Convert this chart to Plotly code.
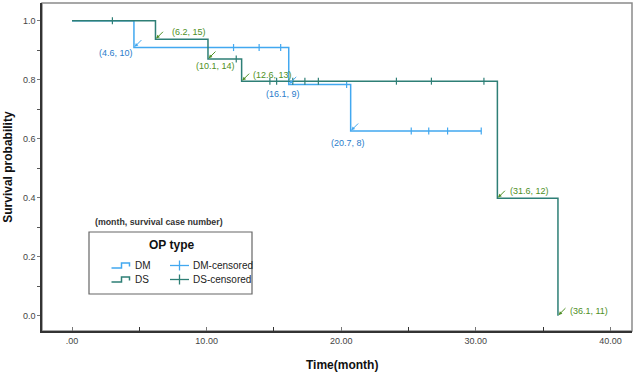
import plotly.graph_objects as go

# ---------------- data ----------------
dm_times = [0, 4.6, 16.1, 20.7]
dm_surv = [1.0, 0.909, 0.784, 0.626]
dm_end = 30.4
dm_cens_t = [12.0, 13.9, 15.5, 20.4, 25.2, 26.5, 27.9, 30.4]

ds_times = [0, 6.2, 10.1, 12.6, 31.6, 36.1]
ds_surv = [1.0, 0.937, 0.870, 0.795, 0.398, 0.0]
ds_end = 36.1
ds_cens_t = [3.0, 12.2, 14.7, 15.2, 16.4, 17.3, 18.3, 24.1, 26.7, 30.6]

# annotation labels: (time, survival case number, group)
lab_t = [4.6, 6.2, 10.1, 12.6, 16.1, 20.7, 31.6, 36.1]
lab_n = [10, 15, 14, 13, 9, 8, 12, 11]
lab_g = ["DM", "DS", "DS", "DS", "DM", "DM", "DS", "DS"]
# text offsets in pixels (dx right, dy down)
lab_dx = [-18, 34, 8, 31, -6, -3, 32, 31]
lab_dy = [5, -7, 7, -6, 10, 12, -7, -5]

x_tickvals = [0, 10, 20, 30, 40]
x_ticktext = [".00", "10.00", "20.00", "30.00", "40.00"]
y_tickvals = [0.0, 0.2, 0.4, 0.6, 0.8, 1.0]
y_ticktext = ["0.0", "0.2", "0.4", "0.6", "0.8", "1.0"]

DM_COL = "#42A8F0"
DS_COL = "#2E7F76"
DM_TXT = "#2A7CCB"
DS_TXT = "#4E8F25"
FONT = "Liberation Sans, Arial, sans-serif"


def surv_at(times, surv, t):
    s = surv[0]
    for ti, si in zip(times, surv):
        if ti <= t:
            s = si
    return s


fig = go.Figure()

# step curves
fig.add_trace(go.Scatter(x=dm_times + [dm_end], y=dm_surv + [dm_surv[-1]],
                         mode="lines", line=dict(color=DM_COL, width=1.5, shape="hv"),
                         showlegend=False, hoverinfo="skip"))
fig.add_trace(go.Scatter(x=dm_cens_t, y=[surv_at(dm_times, dm_surv, t) for t in dm_cens_t],
                         mode="markers",
                         marker=dict(symbol="line-ns", size=5, line=dict(color=DM_COL, width=1.2)),
                         showlegend=False, hoverinfo="skip"))
fig.add_trace(go.Scatter(x=ds_times + [ds_end], y=ds_surv + [ds_surv[-1]],
                         mode="lines", line=dict(color=DS_COL, width=1.5, shape="hv"),
                         showlegend=False, hoverinfo="skip"))
fig.add_trace(go.Scatter(x=ds_cens_t, y=[surv_at(ds_times, ds_surv, t) for t in ds_cens_t],
                         mode="markers",
                         marker=dict(symbol="line-ns", size=5, line=dict(color=DS_COL, width=1.2)),
                         showlegend=False, hoverinfo="skip"))

annotations = []
for t, n, g, dx, dy in zip(lab_t, lab_n, lab_g, lab_dx, lab_dy):
    if g == "DM":
        s = surv_at(dm_times, dm_surv, t)
        tc, ac = DM_TXT, DM_COL
    else:
        s = surv_at(ds_times, ds_surv, t)
        tc, ac = DS_TXT, DS_TXT
    annotations.append(dict(x=t, y=s, xref="x", yref="y", ax=9, ay=-9,
                            showarrow=True, arrowhead=2, arrowsize=0.7, arrowwidth=1,
                            arrowcolor=ac, standoff=1, text=""))
    annotations.append(dict(x=t, y=s, xref="x", yref="y", showarrow=False,
                            xshift=dx, yshift=-dy, text=f"({t}, {n})",
                            font=dict(size=9, color=tc, family=FONT)))

# axis titles
annotations.append(dict(x=0.508, y=-0.104, xref="paper", yref="paper", showarrow=False,
                        text="<b>Time(month)</b>", font=dict(size=12, color="#111", family=FONT),
                        xanchor="center", yanchor="middle"))
annotations.append(dict(x=-0.058, y=0.5, xref="paper", yref="paper", showarrow=False,
                        text="<b>Survival probability</b>", textangle=-90,
                        font=dict(size=12, color="#111", family=FONT),
                        xanchor="center", yanchor="middle"))

# note above legend
annotations.append(dict(x=0.086, y=0.331, xref="paper", yref="paper", showarrow=False,
                        text="<b>(month, survival case number)</b>",
                        font=dict(size=8.8, color="#333", family=FONT),
                        xanchor="left", yanchor="middle"))


# ---------------- manual legend ----------------
def px(xp):
    return (xp - 42) / 590.0


def py(yp):
    return (331 - yp) / 328.0


shapes = []
# plot frame (top/right grey)
shapes.append(dict(type="rect", xref="paper", yref="paper", x0=0, y0=0, x1=1, y1=1,
                   line=dict(color="#8a8a8a", width=1.5), layer="below"))
# legend box
shapes.append(dict(type="rect", xref="paper", yref="paper", x0=px(89), x1=px(252),
                   y0=py(294), y1=py(232), line=dict(color="#666", width=1.2),
                   fillcolor="white", layer="above"))
annotations.append(dict(x=px(171), y=py(245), xref="paper", yref="paper", showarrow=False,
                        text="<b>OP type</b>", font=dict(size=12, color="#111", family=FONT),
                        xanchor="center", yanchor="middle"))

legend_rows = [("DM", DM_COL, 265.5), ("DS", DS_COL, 279.5)]
for name, col, yy in legend_rows:
    # step icon
    path = (f"M {px(111.5)},{py(yy + 2.5)} L {px(121.5)},{py(yy + 2.5)} "
            f"L {px(121.5)},{py(yy - 2.5)} L {px(129.5)},{py(yy - 2.5)} L {px(129.5)},{py(yy + 1)}")
    shapes.append(dict(type="path", xref="paper", yref="paper", path=path,
                       line=dict(color=col, width=1.5), layer="above"))
    annotations.append(dict(x=px(133), y=py(yy), xref="paper", yref="paper", showarrow=False,
                            text=name, font=dict(size=10, color="#222", family=FONT),
                            xanchor="left", yanchor="middle"))
    # cross icon
    shapes.append(dict(type="line", xref="paper", yref="paper", x0=px(170), x1=px(189),
                       y0=py(yy), y1=py(yy), line=dict(color=col, width=1.3), layer="above"))
    shapes.append(dict(type="line", xref="paper", yref="paper", x0=px(179.5), x1=px(179.5),
                       y0=py(yy - 5), y1=py(yy + 5), line=dict(color=col, width=1.3), layer="above"))
    annotations.append(dict(x=px(191), y=py(yy), xref="paper", yref="paper", showarrow=False,
                            text=f"{name}-censored", font=dict(size=10, color="#222", family=FONT),
                            xanchor="left", yanchor="middle"))

fig.update_layout(
    width=644, height=375,
    margin=dict(l=42, r=12, t=3, b=44),
    paper_bgcolor="white", plot_bgcolor="white",
    showlegend=False,
    font=dict(family=FONT, size=9, color="#444"),
    annotations=annotations,
    shapes=shapes,
    xaxis=dict(range=[-2.23, 41.6], tickvals=x_tickvals, ticktext=x_ticktext,
               ticks="inside", ticklen=4, tickcolor="#777", tickwidth=1,
               minor=dict(tickvals=[5, 15, 25, 35], ticks="inside", ticklen=4,
                          tickcolor="#333", tickwidth=1.2),
               showline=True, linecolor="#333", linewidth=1.5,
               showgrid=False, zeroline=False,
               tickfont=dict(size=9, color="#444", family=FONT)),
    yaxis=dict(range=[-0.052, 1.06], tickvals=y_tickvals, ticktext=y_ticktext,
               ticks="outside", ticklen=3, tickcolor="#777", tickwidth=1,
               minor=dict(tickvals=[0.1, 0.3, 0.5, 0.7, 0.9], ticks="outside", ticklen=3,
                          tickcolor="#555", tickwidth=1),
               showline=True, linecolor="#333", linewidth=1.5,
               showgrid=False, zeroline=False,
               tickfont=dict(size=9, color="#444", family=FONT)),
)

fig.write_html("out.html")
